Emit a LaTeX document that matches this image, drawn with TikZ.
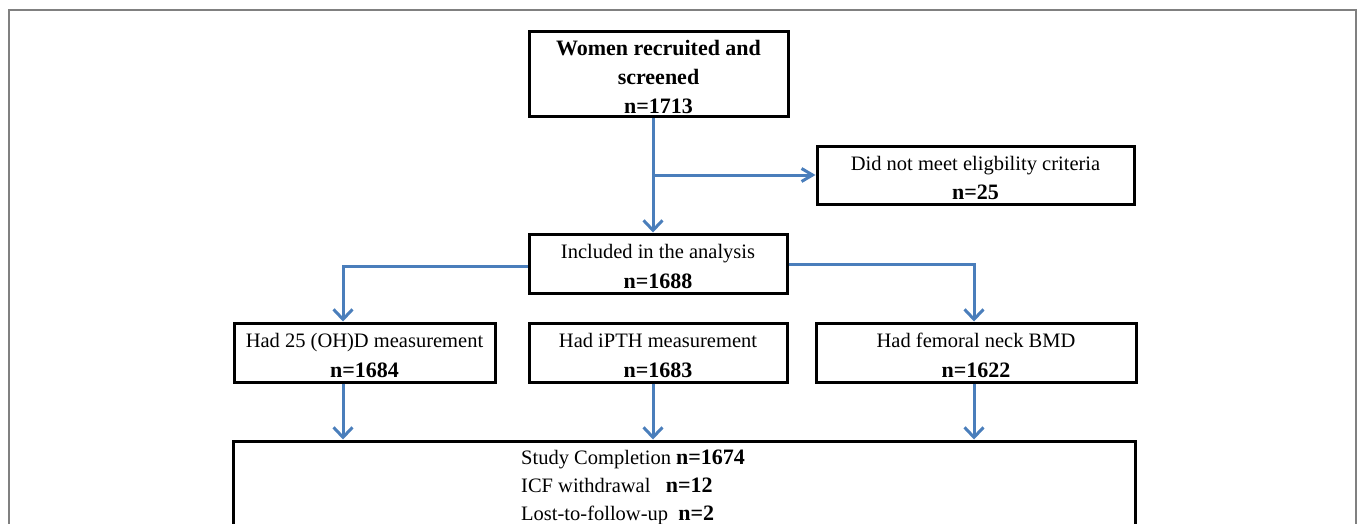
\documentclass[tikz,border=0pt]{standalone}
\usepackage{fontspec}
\setmainfont{Liberation Serif}
\usetikzlibrary{arrows.meta}

\definecolor{flowblue}{RGB}{74,126,187}
\definecolor{framegray}{RGB}{128,128,128}

% bold counts are set a little larger
\newcommand{\bcount}[1]{{\fontsize{22}{29}\selectfont\bfseries #1}}
\newcommand{\topgap}{\rule{0pt}{21pt}}

\tikzset{
  stagebox/.style={draw=black, line width=3pt, align=center, inner sep=0pt,
    font=\fontsize{20.5}{29}\selectfont},
  flow/.style={draw=flowblue, line width=3pt,
    -{Straight Barb[length=10pt, width=19pt, line width=3pt]}},
  sideflow/.style={flow, -{Straight Barb[length=11pt, width=13pt, line width=3pt]}}
}

\begin{document}
\begin{tikzpicture}[x=1pt, y=-1pt]
    \useasboundingbox (0,0) rectangle (1359,524);
    \clip (0,0) rectangle (1359,524);
    \draw[framegray, line width=1.5pt] (9,600) -- (9,10) -- (1356,10) -- (1356,600);

    % boxes
    \node[stagebox, minimum width=259pt, minimum height=85pt] (recruit) at (658.5,74.5)
        {\topgap\bcount{Women recruited and}\\ \bcount{screened}\\ \bcount{n=1713}};
    \node[stagebox, minimum width=317pt, minimum height=58pt] (inelig) at (975.5,175)
        {\topgap Did not meet eligbility criteria\\ \bcount{n=25}};
    \node[stagebox, minimum width=258pt, minimum height=59pt] (incl) at (658,263.5)
        {\topgap Included in the analysis\\[1pt] \bcount{n=1688}};
    \node[stagebox, minimum width=261pt, minimum height=59pt] (vitd) at (364.5,352.5)
        {\topgap Had 25 (OH)D measurement\\[1pt] \bcount{n=1684}};
    \node[stagebox, minimum width=258pt, minimum height=59pt] (ipth) at (658,352.5)
        {\topgap Had iPTH measurement\\[1pt] \bcount{n=1683}};
    \node[stagebox, minimum width=320pt, minimum height=59pt] (bmd) at (976,352.5)
        {\topgap Had femoral neck BMD\\[1pt] \bcount{n=1622}};
    \node[stagebox, minimum width=902pt, minimum height=140pt] (done) at (684,511) {};
    \node[anchor=north west, align=left, inner sep=0pt,
          font=\fontsize{20.5}{28}\selectfont] (donetext) at (521,450)
        {Study Completion \bcount{n=1674}\\
         ICF withdrawal\ \ \ \bcount{n=12}\\
         Lost-to-follow-up\ \ \bcount{n=2}};

    % columns of the arrows
    \coordinate (colL) at (343,0);
    \coordinate (colM) at (653,0);
    \coordinate (colR) at (974,0);

    % connectors
    \draw[flow] (recruit.south -| colM) -- (incl.north -| colM);
    \draw[sideflow] (colM |- inelig.west) -- (inelig.west);
    \draw[flow] ([yshift=-3pt]incl.west) -| (vitd.north -| colL);
    \draw[flow] ([yshift=-1pt]incl.east) -| (bmd.north -| colR);
    \draw[flow] (vitd.south -| colL) -- (done.north -| colL);
    \draw[flow] (ipth.south -| colM) -- (done.north -| colM);
    \draw[flow] (bmd.south -| colR) -- (done.north -| colR);
\end{tikzpicture}
\end{document}
